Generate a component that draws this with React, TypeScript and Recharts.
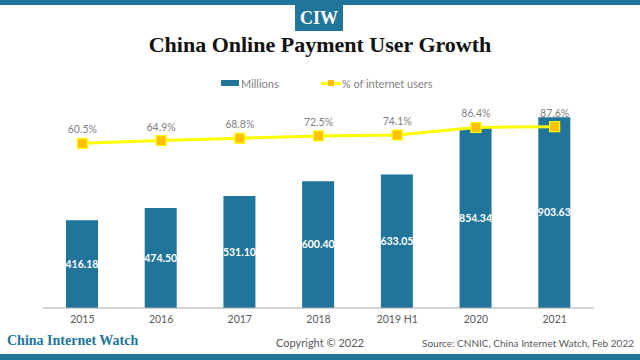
import React from "react";
import {
  ComposedChart,
  Bar,
  Line,
  XAxis,
  YAxis,
  LabelList,
} from "recharts";

// Chart values
const years = ["2015", "2016", "2017", "2018", "2019 H1", "2020", "2021"];
const millions = [416.18, 474.5, 531.1, 600.4, 633.05, 854.34, 903.63];
const percentOfUsers = [60.5, 64.9, 68.8, 72.5, 74.1, 86.4, 87.6];

const BLUE = "#21759B";
const YELLOW = "#FFFF00";
const ORANGE = "#FFC000";
const GREY = "#7F7F7F";
const SANS = "Lato, 'Open Sans', sans-serif";
const SERIF = "'Liberation Serif', 'DejaVu Serif', serif";

const chartData = years.map((year, i) => ({
  year,
  millions: millions[i],
  percent: percentOfUsers[i],
}));

// square marker for the percentage line
const SquareDot = (props: any) => {
  const { cx, cy } = props;
  if (cx == null || cy == null) return null;
  return (
    <rect
      x={cx - 5}
      y={cy - 5}
      width={10}
      height={10}
      fill={ORANGE}
      stroke={YELLOW}
      strokeWidth={1.2}
    />
  );
};

const App: React.FC = () => {
  return (
    <div
      style={{
        position: "absolute",
        left: 0,
        top: 0,
        width: 640,
        height: 360,
        background: "#fff",
        overflow: "hidden",
        fontFamily: SANS,
      }}
    >
      {/* top band + logo */}
      <div style={{ position: "absolute", left: 0, top: 0, width: 640, height: 5, background: BLUE }} />
      <div
        style={{
          position: "absolute",
          left: 295,
          top: 5,
          width: 48,
          height: 26,
          background: BLUE,
          color: "#fff",
          fontFamily: SERIF,
          fontWeight: "bold",
          fontSize: 18,
          lineHeight: "26px",
          textAlign: "center",
        }}
      >
        CIW
      </div>
      <div
        style={{
          position: "absolute",
          left: 0,
          top: 32,
          width: 640,
          textAlign: "center",
          fontFamily: SERIF,
          fontWeight: "bold",
          fontSize: 22,
          color: "#111",
        }}
      >
        China Online Payment User Growth
      </div>

      {/* legend */}
      <div
        style={{
          position: "absolute",
          left: 221,
          top: 76,
          display: "flex",
          alignItems: "center",
          fontSize: 11,
          color: GREY,
          height: 14,
        }}
      >
        <span style={{ display: "inline-block", width: 18, height: 6, background: BLUE, marginRight: 2 }} />
        <span>Millions</span>
        <span style={{ display: "inline-block", width: 42 }} />
        <span style={{ position: "relative", display: "inline-block", width: 20, height: 14, marginRight: 1 }}>
          <span style={{ position: "absolute", left: 0, top: 6, width: 20, height: 3, background: YELLOW }} />
          <span style={{ position: "absolute", left: 7, top: 4, width: 6, height: 6, background: ORANGE }} />
        </span>
        <span>% of internet users</span>
      </div>

      <div style={{ position: "absolute", left: 0, top: 0 }}>
        <ComposedChart
          width={640}
          height={360}
          data={chartData}
          margin={{ top: 97, right: 46, bottom: 32, left: 43 }}
        >
          <XAxis
            dataKey="year"
            axisLine={{ stroke: "#A6A6A6" }}
            tickLine={false}
            height={20}
            tick={{ fill: "#595959", fontSize: 10.5, fontFamily: SANS }}
          />
          <YAxis yAxisId="left" hide domain={[0, 1000]} />
          <YAxis yAxisId="right" orientation="right" hide domain={[-208, 136]} />
          <Bar
            yAxisId="left"
            dataKey="millions"
            fill={BLUE}
            barSize={32}
            isAnimationActive={false}
          >
            <LabelList
              dataKey="millions"
              position="center"
              formatter={(v: any) => Number(v).toFixed(2)}
              fill="#fff"
              fontSize={10.5}
              fontWeight="bold"
              fontFamily={SANS}
            />
          </Bar>
          <Line
            yAxisId="right"
            dataKey="percent"
            stroke={YELLOW}
            strokeWidth={3}
            dot={<SquareDot />}
            activeDot={false}
            isAnimationActive={false}
          >
            <LabelList
              dataKey="percent"
              position="top"
              offset={10}
              formatter={(v: any) => `${Number(v).toFixed(1)}%`}
              fill={GREY}
              fontSize={10.5}
              fontFamily={SANS}
            />
          </Line>
        </ComposedChart>
      </div>

      {/* footer */}
      <div
        style={{
          position: "absolute",
          left: 7,
          top: 333,
          fontFamily: SERIF,
          fontWeight: "bold",
          fontSize: 14,
          color: BLUE,
        }}
      >
        China Internet Watch
      </div>
      <div style={{ position: "absolute", left: 0, width: 640, top: 336, textAlign: "center", fontSize: 11, color: "#595959" }}>
        Copyright © 2022
      </div>
      <div style={{ position: "absolute", right: 6, top: 337, fontSize: 10, color: "#595959" }}>
        Source: CNNIC, China Internet Watch, Feb 2022
      </div>
      <div style={{ position: "absolute", left: 0, top: 354, width: 640, height: 6, background: BLUE }} />
    </div>
  );
};

export default App;
